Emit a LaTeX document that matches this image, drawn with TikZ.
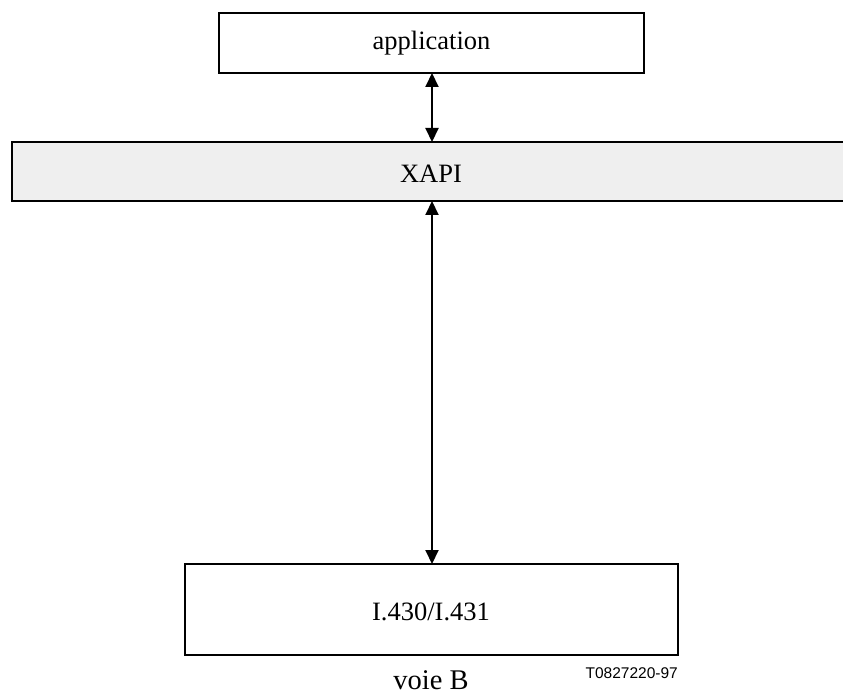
\documentclass[tikz,border=0pt]{standalone}
\usepackage{fontspec}
\setmainfont{Liberation Serif}
\newfontfamily\labelsans{Liberation Sans}
\usetikzlibrary{arrows.meta}
\definecolor{bandgray}{HTML}{EFEFEF}
\tikzset{
  layerbox/.style={draw=black, line width=1.1pt, fill=white},
  bandbox/.style={draw=black, line width=1.1pt, fill=bandgray},
  link/.style={line width=2pt, {Triangle[length=14pt,width=13pt]}-{Triangle[length=14pt,width=13pt]}},
  layertext/.style={font=\fontsize{26.5}{30}\selectfont, inner sep=0pt},
}
\begin{document}
\begin{tikzpicture}[x=1pt, y=-1pt]
  \useasboundingbox (0,0) rectangle (843,695);
  % boxes
  \path[layerbox] (219,13) rectangle (644,73);
  \path[bandbox] (12,142) rectangle (850,201);
  \path[layerbox] (185,564) rectangle (678,655);
  % box anchors
  \coordinate (appB) at (432,73);
  \coordinate (xapiT) at (432,142);
  \coordinate (xapiB) at (432,201);
  \coordinate (physT) at (432,564);
  % labels
  \node[layertext] (app) at (431.5,43) {application};
  \node[layertext] (xapi) at (431,174) {XAPI};
  \node[layertext] (phys) at (431,612) {I.430/I.431};
  \node[font=\fontsize{28.5}{32}\selectfont, inner sep=0pt, anchor=base] (voie) at (431,689) {voie B};
  \node[font=\labelsans\fontsize{15.5}{17}\selectfont, inner sep=0pt, anchor=base east] (ref) at (678,678) {T0827220-97};
  % connectors
  \draw[link] (appB) -- (xapiT);
  \draw[link] (xapiB) -- (physT);
\end{tikzpicture}
\end{document}
